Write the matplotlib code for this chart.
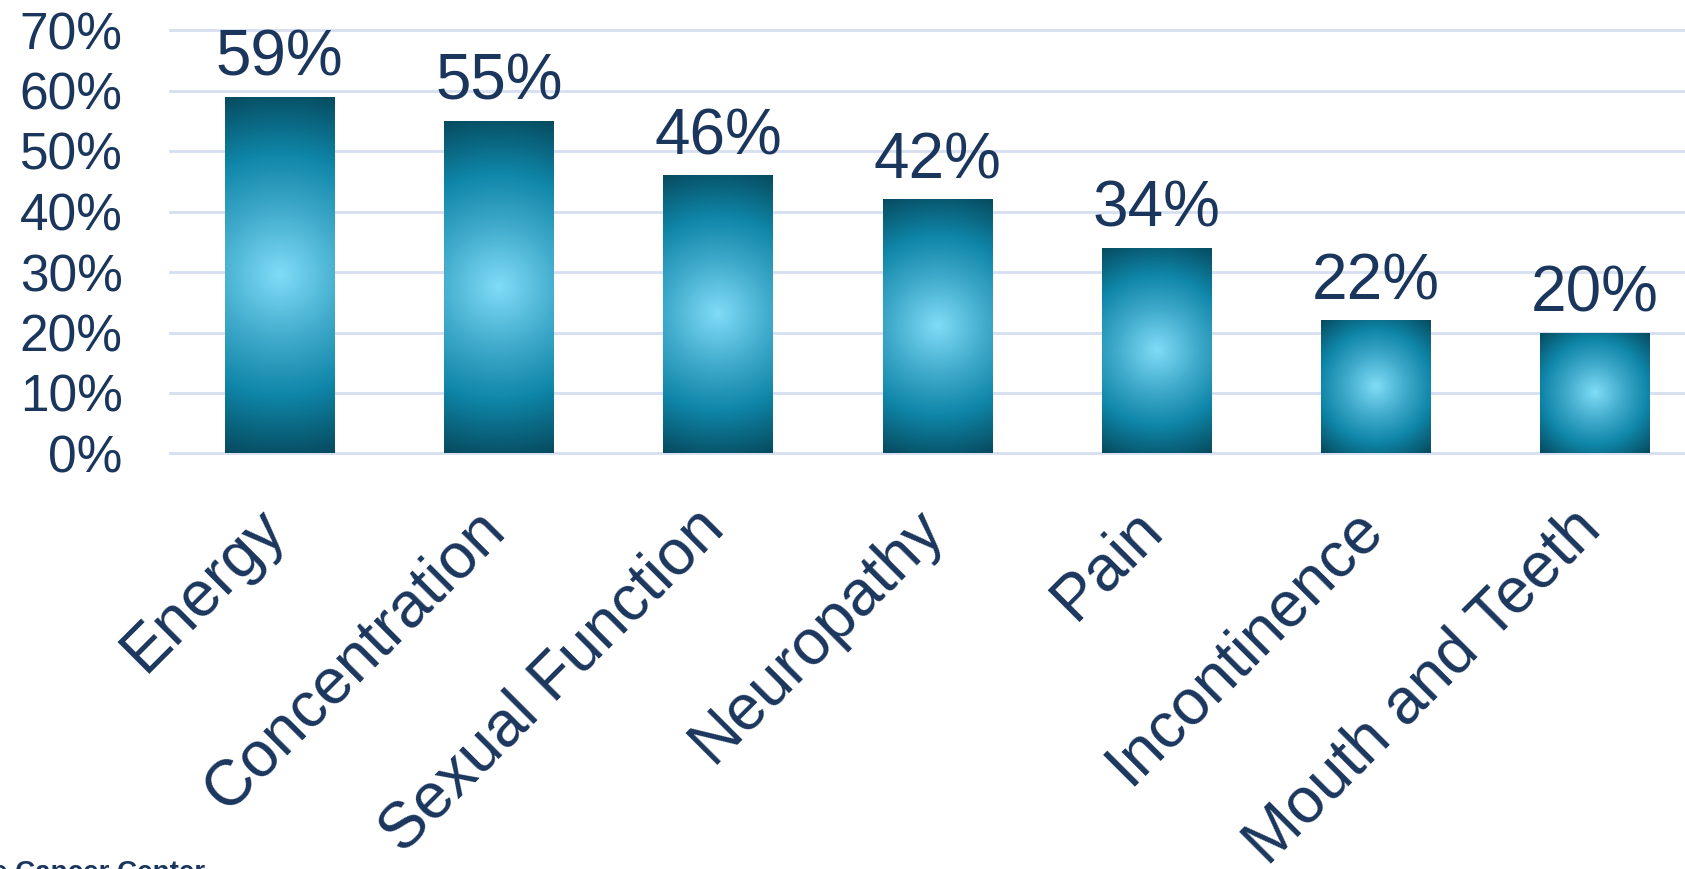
'''
Bar chart of reported late effects, with a radial gradient fill on each bar
'''

import numpy as np
import matplotlib
matplotlib.use('Agg')
import matplotlib.pyplot as plt
import matplotlib.transforms as mtransforms
from matplotlib.colors import LinearSegmentedColormap

categories = ['Energy', 'Concentration', 'Sexual Function', 'Neuropathy',
              'Pain', 'Incontinence', 'Mouth and Teeth']
values = [59, 55, 46, 42, 34, 22, 20]
y_ticks = [0, 10, 20, 30, 40, 50, 60, 70]

navy = '#1b365d'
grid_color = '#d6dff0'

plt.rcParams['font.family'] = ['Liberation Sans', 'DejaVu Sans']

W, H, DPI = 1685, 869, 100
fig = plt.figure(figsize=(W / DPI, H / DPI), dpi=DPI)

# axes placed so the bars line up with the reference
left = 170 / W
bottom = 1 - 453.5 / H
top = 1 - 30 / H
ax = fig.add_axes([left, bottom, 1 - left, top - bottom])
ax.set_xlim(-0.5, 6.41)
ax.set_ylim(0, 70)

for s in ax.spines.values():
    s.set_visible(False)

for t in y_ticks:
    ax.axhline(t, color=grid_color, lw=2, zorder=0, clip_on=False)

ax.set_yticks(y_ticks)
ax.set_yticklabels(['%d%%' % t for t in y_ticks])
ax.tick_params(axis='y', length=0, pad=34, labelsize=37, labelcolor=navy)

x = np.arange(len(categories))
ax.set_xticks(x)
ax.set_xticklabels(categories, rotation=45, ha='right', va='top',
                   rotation_mode='anchor', fontsize=46, color=navy)
ax.tick_params(axis='x', length=0, pad=22)

# nudge the slanted labels left and down
shift = mtransforms.ScaledTranslation(-25 / DPI, -14 / DPI, fig.dpi_scale_trans)
for lab in ax.get_xticklabels():
    lab.set_transform(lab.get_transform() + shift)

# radial gradient, light in the middle and dark at the corners
cmap = LinearSegmentedColormap.from_list('bar', [
    (0.0, '#80dcf7'),
    (0.35, '#40aacb'),
    (0.65, '#0f86a8'),
    (1.0, '#064a5e'),
])

bar_w = 0.5
px_x = ax.get_position().width * W / (6.41 + 0.5)
px_y = ax.get_position().height * H / 70.0

bars = ax.bar(x, values, width=bar_w, color='none', zorder=2)
for xi, v, b in zip(x, values, bars):
    wpx = bar_w * px_x
    hpx = v * px_y
    nx, ny = int(round(wpx)), int(round(hpx))
    gx = np.linspace(-wpx / 2, wpx / 2, nx)
    gy = np.linspace(-hpx / 2, hpx / 2, ny)
    XX, YY = np.meshgrid(gx, gy)
    r = np.sqrt(XX ** 2 + YY ** 2) / np.hypot(wpx / 2, hpx / 2)
    im = ax.imshow(r, cmap=cmap, vmin=0, vmax=1, aspect='auto',
                   extent=(xi - bar_w / 2, xi + bar_w / 2, 0, v),
                   interpolation='bilinear', zorder=2)
    im.set_clip_path(b)
    ax.text(xi, v + 3.5, '%d%%' % v, ha='center', va='baseline',
            fontsize=46, color=navy)

ax.set_xlim(-0.5, 6.41)
ax.set_ylim(0, 70)

fig.text(-8 / W, -11 / H, 'e Cancer Center', ha='left', va='baseline',
         fontsize=20, fontweight='bold', color=navy)

fig.savefig('out.png', dpi=DPI)
